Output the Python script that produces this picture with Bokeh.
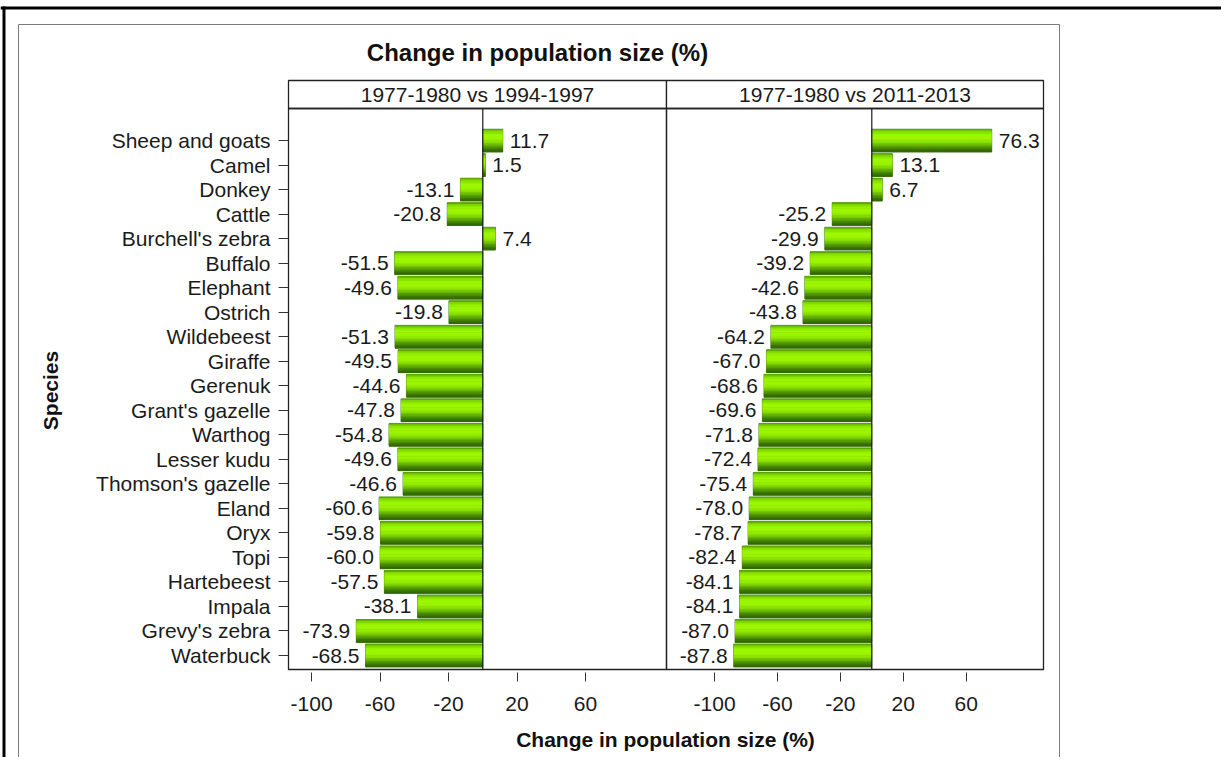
import math
from bokeh.plotting import figure
from bokeh.models import Range1d, LinearAxis, FixedTicker, ColumnDataSource
from bokeh.core.properties import value
from bokeh.embed import file_html
from bokeh.resources import INLINE

# ---------------- data ----------------
species = ["Sheep and goats", "Camel", "Donkey", "Cattle", "Burchell's zebra",
           "Buffalo", "Elephant", "Ostrich", "Wildebeest", "Giraffe", "Gerenuk",
           "Grant's gazelle", "Warthog", "Lesser kudu", "Thomson's gazelle",
           "Eland", "Oryx", "Topi", "Hartebeest", "Impala", "Grevy's zebra",
           "Waterbuck"]
change_1994_1997 = [11.7, 1.5, -13.1, -20.8, 7.4, -51.5, -49.6, -19.8, -51.3,
                    -49.5, -44.6, -47.8, -54.8, -49.6, -46.6, -60.6, -59.8,
                    -60.0, -57.5, -38.1, -73.9, -68.5]
change_2011_2013 = [76.3, 13.1, 6.7, -25.2, -29.9, -39.2, -42.6, -43.8, -64.2,
                    -67.0, -68.6, -69.6, -71.8, -72.4, -75.4, -78.0, -78.7,
                    -82.4, -84.1, -84.1, -87.0, -87.8]
panel_titles = ["1977-1980 vs 1994-1997", "1977-1980 vs 2011-2013"]
x_ticks = [-100, -60, -20, 20, 60]
x_tick_labels = ["-100", "-60", "-20", "20", "60"]
main_title = "Change in population size (%)"
x_title = "Change in population size (%)"
y_title = "Species"

# ---------------- layout (page pixels) ----------------
W, H = 1221, 757
OX, OY = 0, 0
Z1, S1 = 482.3, 1.7125      # panel 1: zero position, px per unit
Z2, S2 = 871.3, 1.5725      # panel 2
ROW0_PY, ROW_PX = 655.0, 24.52

def x1(px): return (px - Z1) / S1
def x2(px): return (px - Z2) / S2
def yr(py): return 1 + (ROW0_PY - py) / ROW_PX

PANEL_L, PANEL_M, PANEL_R = 288, 666, 1043
PANEL_T, PANEL_B, STRIP_T = 108, 669, 80
FONT = value("Liberation Sans")

n = len(species)
rows = list(range(n, 0, -1))

p = figure(width=W, height=H,
           x_range=Range1d(x1(OX), x1(OX + W)),
           y_range=Range1d(yr(OY + H), yr(OY)),
           output_backend="svg", toolbar_location=None, min_border=0,
           x_axis_type=None, y_axis_type=None)
p.extra_x_ranges = {"p2": Range1d(x2(OX), x2(OX + W))}
p.outline_line_color = None
p.background_fill_color = "white"
p.border_fill_color = "white"

# outer black border (top and left) and inner grey frame
p.quad(left=[x1(0), x1(2)], right=[x1(OX + W + 20), x1(5)],
       top=[yr(6), yr(6)], bottom=[yr(9), yr(OY + H)],
       fill_color="black", line_color=None)
p.multi_line(xs=[[x1(18), x1(18), x1(1059), x1(1059)]],
             ys=[[yr(OY + H), yr(24), yr(24), yr(OY + H)]],
             line_color="#7a7a7a", line_width=1)

# title
p.text(x=[x1(537)], y=[yr(52)], text=[main_title], text_font=FONT,
       text_font_style="bold", text_font_size="24px", text_align="center",
       text_baseline="middle", text_color="#111111")

# panels + strips
yb, ypt, yst = yr(PANEL_B), yr(PANEL_T), yr(STRIP_T)
lims = [(x1(PANEL_L), x1(PANEL_M)), (x2(PANEL_M), x2(PANEL_R))]
range_names = ["default", "p2"]
for (lo, hi), rn, ttl in zip(lims, range_names, panel_titles):
    p.quad(left=[lo], right=[hi], top=[yst], bottom=[ypt], fill_color="white",
           line_color="#222222", line_width=1.3, x_range_name=rn)
    p.quad(left=[lo], right=[hi], top=[ypt], bottom=[yb], fill_color=None,
           line_color="#222222", line_width=1.3, x_range_name=rn)
    p.text(x=[(lo + hi) / 2], y=[(ypt + yst) / 2], text=[ttl], text_font=FONT,
           text_font_size="21px", text_align="center", text_baseline="middle",
           text_color="#1a1a1a", x_range_name=rn)

# bars with a shaded (gradient-like) fill
stops = [(0.0, (0x4a, 0x94, 0x00)), (0.10, (0x80, 0xd8, 0x00)),
         (0.25, (0x9c, 0xf8, 0x00)), (0.45, (0x9c, 0xf4, 0x00)),
         (0.60, (0x86, 0xdc, 0x00)), (0.75, (0x5e, 0xa8, 0x00)),
         (0.90, (0x3a, 0x78, 0x00)), (1.0, (0x2e, 0x64, 0x00))]

def shade(t):
    for (t0, c0), (t1, c1) in zip(stops[:-1], stops[1:]):
        if t0 <= t <= t1:
            f = (t - t0) / (t1 - t0)
            c = [round(a + (b - a) * f) for a, b in zip(c0, c1)]
            return "#%02x%02x%02x" % tuple(c)
    return "#%02x%02x%02x" % stops[-1][1]

BH = 0.93
NS = 16
for vals, rn in zip([change_1994_1997, change_2011_2013], range_names):
    p.hbar(y=rows, left=0, right=vals, height=BH, fill_color="#2e6400",
           line_color="#2e6400", line_width=0.6, x_range_name=rn)
    for k in range(NS):
        t = (k + 0.5) / NS
        off = BH / 2 - BH / NS * (k + 0.5)
        p.hbar(y=[r + off for r in rows], left=0, right=vals,
               height=BH / NS * 1.4, fill_color=shade(t), line_color=None,
               x_range_name=rn)

# zero lines
for rn in range_names:
    p.segment(x0=[0], y0=[yb], x1=[0], y1=[ypt], line_color="#1a1a1a",
              line_width=1.2, x_range_name=rn)

# value labels
for vals, rn in zip([change_1994_1997, change_2011_2013], range_names):
    src = ColumnDataSource(dict(
        x=vals, y=rows, label=["%.1f" % v for v in vals],
        align=["left" if v >= 0 else "right" for v in vals],
        xoff=[6 if v >= 0 else -5 for v in vals]))
    p.text(x="x", y="y", text="label", source=src, text_align="align",
           x_offset="xoff", text_baseline="middle", text_font=FONT,
           text_font_size="21px", text_color="#1a1a1a",
           background_fill_color="white", padding=1, x_range_name=rn)

# axes
for rn in range_names:
    ax = LinearAxis(ticker=FixedTicker(ticks=x_ticks), fixed_location=yb,
                    x_range_name=rn,
                    major_label_overrides=dict(zip(x_ticks, x_tick_labels)))
    ax.axis_line_color = None
    ax.major_tick_in = -3
    ax.major_tick_out = 12
    ax.minor_tick_line_color = None
    ax.major_tick_line_color = "#333333"
    ax.major_label_text_font = "Liberation Sans"
    ax.major_label_text_font_size = "21px"
    ax.major_label_text_color = "#1a1a1a"
    ax.major_label_standoff = 15
    p.add_layout(ax, "below")

yax = LinearAxis(ticker=FixedTicker(ticks=rows), fixed_location=lims[0][0],
                 major_label_overrides={r: s for r, s in zip(rows, species)})
yax.axis_line_color = None
yax.major_tick_in = 0
yax.major_tick_out = 10
yax.minor_tick_line_color = None
yax.major_tick_line_color = "#333333"
yax.major_label_text_font = "Liberation Sans"
yax.major_label_text_font_size = "21px"
yax.major_label_text_color = "#1a1a1a"
yax.major_label_standoff = 8
p.add_layout(yax, "left")

# axis titles
p.text(x=[x1(50)], y=[yr(390)], text=[y_title], angle=math.pi / 2,
       text_font=FONT, text_font_style="bold", text_font_size="21px",
       text_align="center", text_baseline="middle", text_color="#111111")
p.text(x=[x1(665)], y=[yr(739)], text=[x_title], text_font=FONT,
       text_font_style="bold", text_font_size="21px", text_align="center",
       text_baseline="middle", text_color="#111111")

open("out.html", "w").write(file_html(p, INLINE))
